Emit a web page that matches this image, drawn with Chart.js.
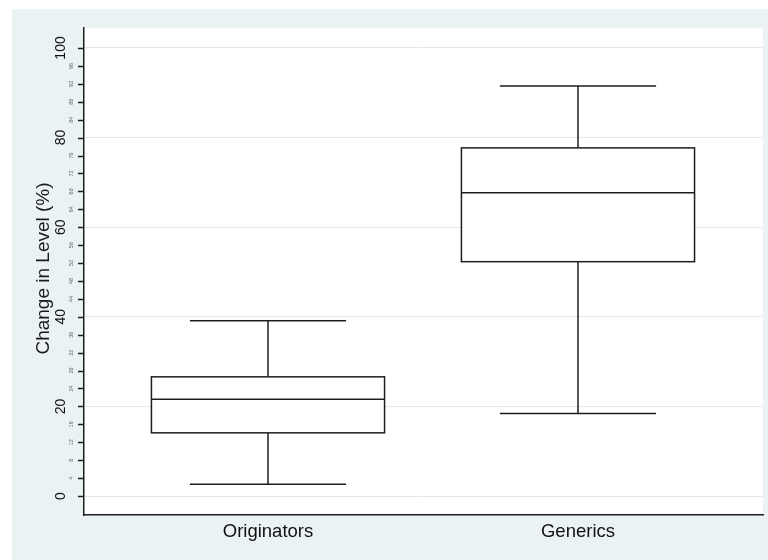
<!DOCTYPE html>
<html>
<head>
<meta charset="utf-8">
<title>Change in Level</title>
<script src="https://cdn.jsdelivr.net/npm/chart.js@4"></script>
<style>
  body { margin: 0; background: #fff; }
  #wrap { width: 768px; height: 560px; }
</style>
</head>
<body>
<div id="wrap"><canvas id="boxChart" width="768" height="560"></canvas></div>
<script>
// Box plot data (percent change)
const groups = ['Originators', 'Generics'];
const whiskerLow = [2.6, 18.4];
const q1 = [14.1, 52.3];
const median = [21.6, 67.7];
const q3 = [26.6, 77.7];
const whiskerHigh = [39.1, 91.5];

// y axis ticks: majors carry big labels, minors tiny ones
const majorTicks = [0, 20, 40, 60, 80, 100];
const minorTicks = [4, 8, 12, 16, 24, 28, 32, 36, 44, 48, 52, 56, 64, 68, 72, 76, 84, 88, 92, 96];

const panelColor = '#eaf2f3';
const gridColor = '#e0eaec';
const inkColor = '#1e1e1e';
const boxHalf = 0.376;
const capHalf = 0.252;

// Backdrop: grey-blue graph region, white plot region
const backdrop = {
  id: 'backdrop',
  beforeDraw(chart) {
    const { ctx, chartArea: a } = chart;
    ctx.save();
    ctx.fillStyle = '#fff';
    ctx.fillRect(0, 0, chart.width, chart.height);
    ctx.fillStyle = panelColor;
    ctx.fillRect(12, 9, chart.width - 12, chart.height - 9);
    ctx.fillStyle = '#fff';
    ctx.fillRect(a.left, a.top, a.right - a.left, a.bottom - a.top);
    ctx.restore();
  }
};

// Boxes, medians and whiskers
const boxPlot = {
  id: 'boxPlot',
  afterDatasetsDraw(chart) {
    const { ctx, scales: { x, y } } = chart;
    ctx.save();
    ctx.strokeStyle = inkColor;
    ctx.lineWidth = 1.5;
    groups.forEach((g, i) => {
      const cx = x.getPixelForValue(i + 1);
      const bl = x.getPixelForValue(i + 1 - boxHalf);
      const br = x.getPixelForValue(i + 1 + boxHalf);
      const cl = x.getPixelForValue(i + 1 - capHalf);
      const cr = x.getPixelForValue(i + 1 + capHalf);
      const yLo = y.getPixelForValue(whiskerLow[i]);
      const yQ1 = y.getPixelForValue(q1[i]);
      const yMed = y.getPixelForValue(median[i]);
      const yQ3 = y.getPixelForValue(q3[i]);
      const yHi = y.getPixelForValue(whiskerHigh[i]);

      ctx.fillStyle = '#fff';
      ctx.fillRect(bl, yQ3, br - bl, yQ1 - yQ3);
      ctx.strokeRect(bl, yQ3, br - bl, yQ1 - yQ3);

      ctx.beginPath();
      ctx.moveTo(bl, yMed); ctx.lineTo(br, yMed);
      ctx.moveTo(cx, yQ3); ctx.lineTo(cx, yHi);
      ctx.moveTo(cx, yQ1); ctx.lineTo(cx, yLo);
      ctx.moveTo(cl, yHi); ctx.lineTo(cr, yHi);
      ctx.moveTo(cl, yLo); ctx.lineTo(cr, yLo);
      ctx.stroke();
    });
    ctx.restore();
  }
};

// Outward tick marks, rotated y tick labels and axis title
const yLabels = {
  id: 'yLabels',
  afterDraw(chart) {
    const { ctx, scales: { y }, chartArea: a } = chart;
    ctx.save();
    ctx.strokeStyle = inkColor;
    ctx.lineWidth = 1.5;
    ctx.beginPath();
    majorTicks.concat(minorTicks).forEach(v => {
      const py = Math.round(y.getPixelForValue(v)) + 0.5;
      ctx.moveTo(a.left - 6, py);
      ctx.lineTo(a.left, py);
    });
    ctx.stroke();

    ctx.textAlign = 'center';
    ctx.textBaseline = 'middle';
    const drawRot = (text, px, py, font, color) => {
      ctx.save();
      ctx.translate(px, py);
      ctx.rotate(-Math.PI / 2);
      ctx.font = font;
      ctx.fillStyle = color;
      ctx.fillText(text, 0, 0);
      ctx.restore();
    };
    majorTicks.forEach(v => drawRot(String(v), 61, y.getPixelForValue(v), '14px "Liberation Sans", Arial, sans-serif', '#111'));
    minorTicks.forEach(v => drawRot(String(v), 71, y.getPixelForValue(v), '5.5px "Liberation Sans", Arial, sans-serif', '#666'));
    drawRot('Change in Level (%)', 44, (a.top + a.bottom) / 2 - 3, '19px "Liberation Sans", Arial, sans-serif', '#1a1a1a');
    ctx.restore();
  }
};

new Chart(document.getElementById('boxChart'), {
  type: 'scatter',
  data: {
    datasets: [{
      label: 'Median',
      data: median.map((m, i) => ({ x: i + 1, y: m })),
      pointRadius: 0,
      pointHoverRadius: 0
    }]
  },
  options: {
    responsive: false,
    animation: false,
    events: [],
    layout: { padding: { left: 12, top: 28, right: 5, bottom: 0 } },
    plugins: { legend: { display: false }, tooltip: { enabled: false } },
    scales: {
      x: {
        type: 'linear',
        min: 0.4065,
        max: 2.5968,
        afterBuildTicks: s => { s.ticks = groups.map((g, i) => ({ value: i + 1 })); },
        afterFit: s => { s.height = 45; },
        grid: { display: false, drawTicks: false },
        border: { display: true, color: inkColor, width: 1.5 },
        ticks: {
          padding: 6,
          color: '#111',
          font: { family: '"Liberation Sans", Arial, sans-serif', size: 18.5 },
          callback: v => groups[v - 1] || ''
        }
      },
      y: {
        type: 'linear',
        min: -4.24,
        max: 104.46,
        afterBuildTicks: s => {
          s.ticks = majorTicks.concat(minorTicks).sort((p, q) => p - q).map(v => ({ value: v }));
        },
        afterFit: s => { s.width = 72; },
        grid: {
          drawTicks: false,
          lineWidth: 1,
          color: c => (c.tick && c.tick.value % 20 === 0) ? gridColor : 'rgba(0,0,0,0)'
        },
        border: { display: true, color: inkColor, width: 1.5 },
        ticks: { display: false }
      }
    }
  },
  plugins: [backdrop, boxPlot, yLabels]
});
</script>
</body>
</html>
